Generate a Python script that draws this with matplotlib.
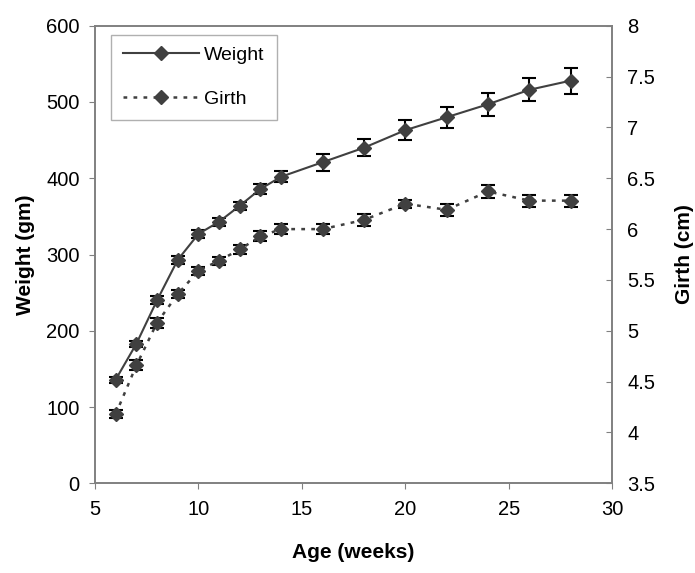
import numpy as np
from matplotlib import pyplot as plt

plt.rcParams['font.family'] = ['Liberation Sans', 'DejaVu Sans']

# ages in weeks
age = [6, 7, 8, 9, 10, 11, 12, 13, 14, 16, 18, 20, 22, 24, 26, 28]

# weight (gm) and its error
weight = [136, 183, 240, 293, 327, 343, 364, 386, 402, 421, 440, 463, 480, 497, 516, 528]
weight_err = [4, 4, 5, 5, 5, 5, 5, 6, 7, 11, 11, 13, 14, 15, 15, 17]

# girth (cm) and its error
girth = [4.18, 4.66, 5.08, 5.36, 5.59, 5.69, 5.80, 5.93, 6.00, 6.00, 6.09, 6.25, 6.19, 6.37, 6.28, 6.28]
girth_err = [0.04, 0.05, 0.05, 0.04, 0.04, 0.04, 0.04, 0.05, 0.05, 0.05, 0.06, 0.04, 0.06, 0.06, 0.06, 0.06]

spine_col = '#808080'
mark_col = '#404040'

fig = plt.figure(figsize=(6.95, 5.73), dpi=100)
ax = fig.add_axes([0.1367, 0.1565, 0.744, 0.7986])
ax2 = ax.twinx()

l1 = ax.errorbar(age, weight, yerr=weight_err, fmt='-D', color=mark_col, ms=7,
                 lw=1.5, ecolor='black', elinewidth=1.5, capsize=5, capthick=1.5,
                 label='Weight')
l2 = ax2.errorbar(age, girth, yerr=girth_err, fmt='D', color=mark_col, ms=7,
                  ls=(0, (1.5, 2.5)), lw=1.8, ecolor='black', elinewidth=1.5,
                  capsize=5, capthick=1.5, label='Girth')

ax.set_xlim(5, 30)
ax.set_ylim(0, 600)
ax2.set_ylim(3.5, 8)
ax.set_xticks([5, 10, 15, 20, 25, 30])
ax.set_yticks(range(0, 601, 100))
ax2.set_yticks(np.arange(3.5, 8.01, 0.5))
ax2.set_yticklabels(['3.5', '4', '4.5', '5', '5.5', '6', '6.5', '7', '7.5', '8'])

for a in (ax, ax2):
    for s in a.spines.values():
        s.set_color(spine_col)
        s.set_linewidth(1.2)
ax.tick_params(axis='x', colors=spine_col, labelcolor='black', labelsize=14.5,
               length=4, direction='out', pad=8)
ax.tick_params(axis='y', colors=spine_col, labelcolor='black', labelsize=14.5,
               length=4, direction='out', pad=7)
ax2.tick_params(axis='y', colors=spine_col, labelcolor='black', labelsize=14.5,
                length=4, direction='in', pad=11)

ax.set_xlabel('Age (weeks)', fontsize=15, fontweight='bold', labelpad=17)
ax.set_ylabel('Weight (gm)', fontsize=15, fontweight='bold', labelpad=8)
ax2.set_ylabel('Girth (cm)', fontsize=15, fontweight='bold', labelpad=14)

leg = ax.legend([l1.lines[0], l2.lines[0]], ['Weight', 'Girth'], loc='upper left',
                bbox_to_anchor=(0.031, 0.98), borderaxespad=0, fontsize=14,
                fancybox=False, framealpha=1, edgecolor='#b0b0b0', handlelength=3.9,
                handletextpad=0.3, labelspacing=1.35, borderpad=0.6)
leg.get_frame().set_linewidth(1.0)

fig.savefig('out.png', dpi=100)
